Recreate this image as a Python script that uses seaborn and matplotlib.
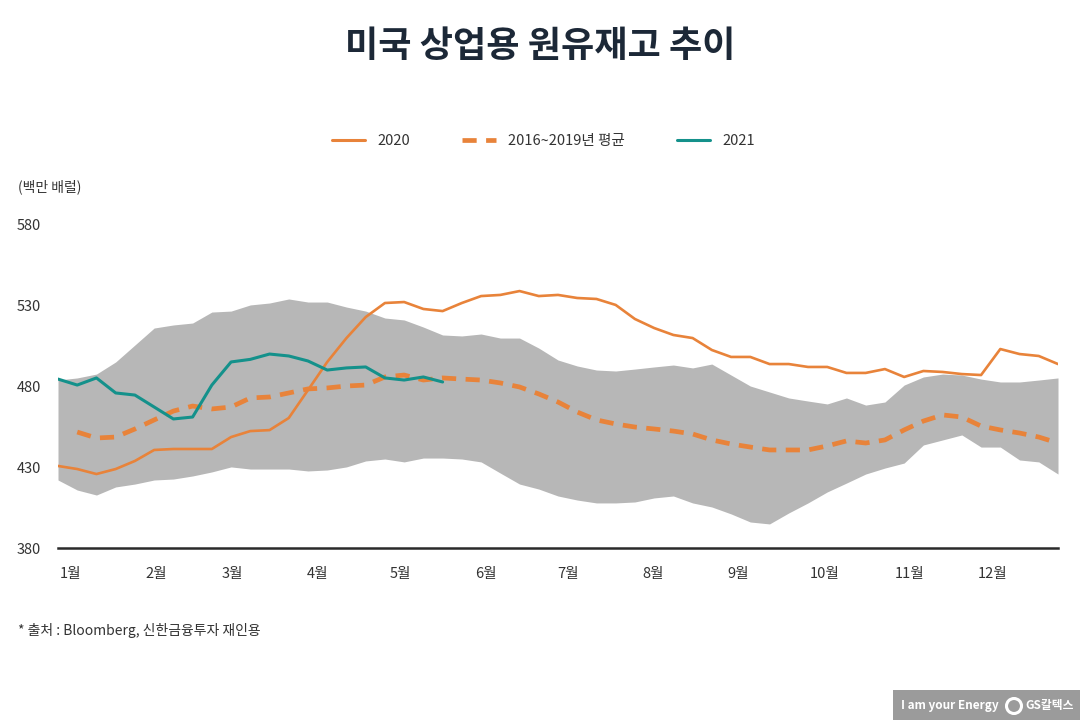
import numpy as np
import pandas as pd
import matplotlib
matplotlib.use("Agg")
import matplotlib.pyplot as plt
import seaborn as sns
from matplotlib.lines import Line2D
from matplotlib.patches import Rectangle, Ellipse

# ---- chart text ----
title = "미국 상업용 원유재고 추이"
unit_label = "(백만 배럴)"
source_note = "* 출처 : Bloomberg, 신한금융투자 재인용"
month_labels = [f"{m}월" for m in range(1, 13)]
y_ticks = [380, 430, 480, 530, 580]
series_names = ["2020", "2016~2019년 평균", "2021"]

# ---- weekly data (million barrels), week 0 = first week of January ----
band_upper = [484.0, 485.3, 487.7, 495.2, 505.7, 516.2, 518.1, 519.3, 526.1, 526.7,
              530.5, 531.7, 534.2, 532.3, 532.3, 529.2, 526.7, 522.4, 521.2, 516.8,
              511.9, 511.3, 512.5, 510.0, 510.0, 503.8, 496.4, 492.7, 490.2, 489.6,
              490.8, 492.1, 493.3, 491.5, 493.9, 487.1, 480.3, 476.6, 472.9, 471.0,
              469.2, 472.9, 468.5, 470.4, 480.9, 485.9, 487.7, 487.1, 484.6, 482.8,
              482.8, 484.0, 485.3]
band_lower = [422.1, 415.9, 412.8, 417.8, 419.6, 422.1, 422.7, 424.6, 427.1, 430.2,
              428.9, 428.9, 428.9, 427.7, 428.3, 430.2, 433.9, 435.1, 433.3, 435.7,
              435.7, 435.1, 433.3, 426.4, 419.6, 416.5, 412.2, 409.7, 407.9, 407.9,
              408.5, 411.0, 412.2, 407.9, 405.4, 401.1, 396.1, 394.9, 401.7, 407.9,
              414.7, 420.2, 425.8, 429.5, 432.6, 443.8, 446.9, 450.0, 442.5, 442.5,
              434.5, 433.3, 425.8]
stock_2020 = [430.8, 428.9, 425.8, 428.9, 433.9, 440.7, 441.3, 441.3, 441.3, 448.7,
              452.4, 453.0, 460.5, 477.8, 495.2, 510.0, 523.0, 531.7, 532.3, 528.0,
              526.7, 531.7, 536.0, 536.7, 539.1, 536.0, 536.7, 534.8, 534.2, 530.5,
              521.8, 516.2, 511.9, 510.0, 502.6, 498.3, 498.3, 493.9, 493.9, 492.1,
              492.1, 488.4, 488.4, 490.8, 485.9, 489.6, 489.0, 487.7, 487.1, 503.2,
              500.1, 498.9, 493.9]
# average starts one week later
avg_2016_2019 = [451.8, 448.1, 448.7, 453.7, 459.3, 464.8, 467.9, 466.1, 467.3, 472.9,
                 473.5, 476.0, 478.5, 479.1, 480.3, 480.9, 485.9, 487.1, 484.0, 485.3,
                 484.6, 484.0, 482.2, 479.7, 475.4, 470.4, 464.2, 459.3, 456.8, 454.9,
                 453.7, 452.4, 450.6, 446.9, 444.4, 442.5, 440.7, 440.7, 440.7, 443.2,
                 446.3, 445.0, 446.9, 453.1, 458.6, 462.4, 461.1, 455.5, 453.1, 451.2,
                 448.7, 445.0]
stock_2021 = [484.6, 480.9, 485.3, 476.0, 474.7, 467.3, 459.9, 461.1, 480.9, 495.2,
              496.8, 500.1, 498.9, 495.8, 490.2, 491.5, 492.1, 485.3, 484.0, 485.9,
              482.8]

ORANGE = "#E8833A"
TEAL = "#14918B"
BAND = "#B7B7B7"
TEXT = "#333333"

sns.set_theme(style="white")
plt.rcParams["font.family"] = ["Noto Sans CJK KR", "DejaVu Sans"]

weeks = np.arange(len(stock_2020))
df_2020 = pd.DataFrame({"week": weeks, "stock": stock_2020})
df_avg = pd.DataFrame({"week": np.arange(1, len(avg_2016_2019) + 1), "stock": avg_2016_2019})
df_2021 = pd.DataFrame({"week": np.arange(len(stock_2021)), "stock": stock_2021})

fig = plt.figure(figsize=(10.8, 7.2), dpi=100)
ax = fig.add_axes([58 / 1080, 1 - 548 / 720, 1000 / 1080, 323 / 720])

# 2016~2019 range band
ax.fill_between(weeks, band_lower, band_upper, color=BAND, lw=0, zorder=1)

sns.lineplot(data=df_2020, x="week", y="stock", ax=ax, color=ORANGE, lw=1.9, zorder=3)
sns.lineplot(data=df_avg, x="week", y="stock", ax=ax, color=ORANGE, lw=3.4,
             linestyle=(0, (3, 2)), zorder=2)
sns.lineplot(data=df_2021, x="week", y="stock", ax=ax, color=TEAL, lw=2.2, zorder=4)

ax.set_xlim(0, len(weeks) - 1)
ax.set_ylim(380, 580)
ax.set_xlabel("")
ax.set_ylabel("")

# month labels sit at the start of each month (in weeks)
month_start = (pd.date_range("2021-01-01", periods=12, freq="MS").dayofyear - 1) / 7 + 0.1
ax.set_xticks(month_start)
ax.set_xticklabels(month_labels, ha="left")
ax.set_yticks(y_ticks)
ax.set_yticklabels([str(t) for t in y_ticks])
ax.tick_params(axis="x", length=0, pad=14, labelsize=10.5, labelcolor=TEXT)
ax.tick_params(axis="y", length=0, pad=12, labelsize=10.5, labelcolor=TEXT)

for side in ["top", "right", "left"]:
    ax.spines[side].set_visible(False)
ax.spines["bottom"].set_color("#2a2a2a")
ax.spines["bottom"].set_linewidth(1.8)

# legend
handles = [
    Line2D([], [], color=ORANGE, lw=2.2),
    Line2D([], [], color=ORANGE, lw=3.4, linestyle=(0, (3, 2))),
    Line2D([], [], color=TEAL, lw=2.2),
]
fig.legend(handles, series_names, loc="center", bbox_to_anchor=(0.503, 1 - 141 / 720),
           ncol=3, frameon=False, handlelength=2.3, handletextpad=0.8,
           columnspacing=3.6, fontsize=10.5, labelcolor=TEXT)

fig.text(0.5, 1 - 47 / 720, title, ha="center", va="center", fontsize=26,
         fontweight="bold", color="#1c2837")
fig.text(18 / 1080, 1 - 187 / 720, unit_label, ha="left", va="center", fontsize=10, color=TEXT)
fig.text(18 / 1080, 1 - 630 / 720, source_note, ha="left", va="center", fontsize=10, color=TEXT)

# brand tag bottom-right
fig.patches.append(Rectangle((893 / 1080, 0), 187 / 1080, 30 / 720, transform=fig.transFigure,
                             facecolor="#9b9b9b", edgecolor="none"))
fig.patches.append(Ellipse((1014 / 1080, 14 / 720), 15 / 1080, 15 / 720, transform=fig.transFigure,
                           facecolor="none", edgecolor="white", lw=2.2))
fig.text(950 / 1080, 14 / 720, "I am your Energy", ha="center", va="center",
         fontsize=8.5, fontweight="bold", color="white")
fig.text(1050 / 1080, 14 / 720, "GS칼텍스", ha="center", va="center",
         fontsize=8.5, fontweight="bold", color="white")

fig.savefig("out.png", dpi=100)
